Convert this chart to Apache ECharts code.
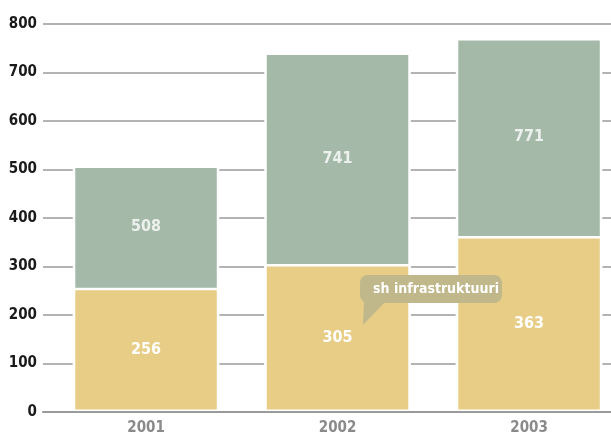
<!DOCTYPE html>
<html>
<head>
<meta charset="utf-8">
<script src="https://cdn.jsdelivr.net/npm/echarts@6/dist/echarts.min.js"></script>
<style>
html,body{margin:0;padding:0;background:#fff;}
#chart{width:611px;height:436px;}
</style>
</head>
<body>
<div id="chart"></div>
<script>
var years = ['2001', '2002', '2003'];
var bottomValues = [256, 305, 363];
var totalValues = [508, 741, 771];
var yTicks = [0, 100, 200, 300, 400, 500, 600, 700, 800];
var calloutText = 'sh infrastruktuuri';

var FONT = '"DejaVu Sans Condensed", sans-serif';

var labelData = totalValues.map(function (t, i) { return [i, (t + bottomValues[i]) / 2]; });

var chart = echarts.init(document.getElementById('chart'), null, {renderer: 'canvas'});
chart.setOption({
  animation: false,
  backgroundColor: '#ffffff',
  grid: {left: 43, right: 0, top: 24, bottom: 24, containLabel: false, outerBoundsMode: 'none'},
  xAxis: {
    type: 'value',
    min: -0.538,
    max: 2.428,
    z: 3,
    splitLine: {show: false},
    axisTick: {show: false},
    axisLine: {show: true, lineStyle: {color: '#9a9a9a', width: 2}},
    axisLabel: {
      customValues: [0, 1, 2],
      margin: 9,
      color: '#8a8a8a',
      fontFamily: FONT,
      fontWeight: 'bold',
      fontSize: 15,
      formatter: function (v) { return years[Math.round(v)]; }
    }
  },
  yAxis: {
    type: 'value',
    min: 0,
    max: 800,
    interval: 100,
    axisLine: {show: false},
    axisTick: {show: false},
    splitLine: {show: true, lineStyle: {color: '#9a9a9a', width: 1.5}},
    axisLabel: {
      margin: 6,
      color: '#1a1a1a',
      fontFamily: FONT,
      fontWeight: 'bold',
      fontSize: 15,
      formatter: function (v) { return yTicks.indexOf(v) >= 0 ? String(v) : ''; }
    }
  },
  series: [
    {
      type: 'bar',
      barWidth: 146.5,
      barGap: '-100%',
      data: totalValues.map(function (v, i) { return [i, v]; }),
      itemStyle: {color: '#a5b9a9', borderColor: '#ffffff', borderWidth: 2.5},
      label: {show: false}
    },
    {
      type: 'bar',
      barWidth: 146.5,
      barGap: '-100%',
      data: bottomValues.map(function (v, i) { return [i, v]; }),
      itemStyle: {color: '#e8cd87', borderColor: '#ffffff', borderWidth: 2.5},
      label: {
        show: true, position: 'inside', color: '#ffffff',
        fontFamily: FONT, fontWeight: 'bold', fontSize: 16,
        formatter: function (p) { return String(bottomValues[p.dataIndex]); }
      }
    },
    {
      type: 'scatter',
      symbolSize: 0,
      silent: true,
      data: labelData,
      label: {
        show: true, position: 'inside', color: '#ffffff',
        fontFamily: FONT, fontWeight: 'bold', fontSize: 16,
        formatter: function (p) { return String(totalValues[p.dataIndex]); }
      },
      z: 5
    }
  ],
  graphic: [
    {type: 'rect', z: 100, left: 360, top: 275, shape: {width: 142, height: 28, r: 8}, style: {fill: '#c0b78a'}},
    {type: 'polygon', z: 100, shape: {points: [[364, 301], [386, 301], [363, 325]]}, style: {fill: '#c0b78a'}},
    {type: 'text', z: 101, style: {x: 436, y: 289.5, text: calloutText, fill: '#ffffff', align: 'center', verticalAlign: 'middle', font: 'bold 14px "DejaVu Sans Condensed"'}}
  ]
});
</script>
</body>
</html>
